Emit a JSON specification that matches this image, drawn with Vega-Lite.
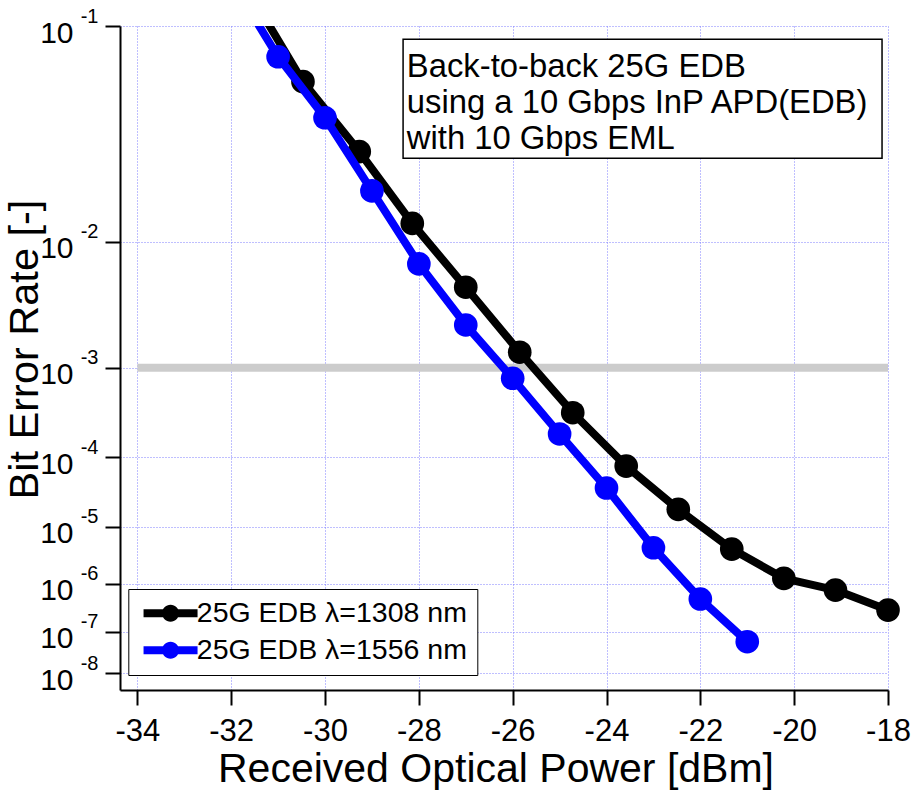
{
  "$schema": "https://vega.github.io/schema/vega-lite/v6.json",
  "width": 768,
  "height": 664,
  "autosize": {"type": "none"},
  "padding": {"left": 120, "top": 26, "right": 26, "bottom": 100},
  "background": "white",
  "config": {
    "view": {"stroke": null},
    "font": "Liberation Sans",
    "axis": {
      "domainColor": "black", "domainWidth": 2,
      "tickColor": "black", "tickWidth": 2, "tickSize": 15,
      "labelFont": "Liberation Sans", "labelColor": "black",
      "titleFont": "Liberation Sans", "titleColor": "black", "titleFontWeight": "normal",
      "gridColor": "#7f7fff", "gridDash": [1, 2], "gridWidth": 1, "gridOpacity": 1
    }
  },
  "data": {
    "values": [
      {"s": "1308", "p": -31.6, "q": 0.9},
      {"s": "1308", "p": -30.47, "q": 1.196},
      {"s": "1308", "p": -29.27, "q": 1.497},
      {"s": "1308", "p": -28.14, "q": 1.886},
      {"s": "1308", "p": -27.0, "q": 2.315},
      {"s": "1308", "p": -25.85, "q": 2.853},
      {"s": "1308", "p": -24.72, "q": 3.465},
      {"s": "1308", "p": -23.58, "q": 4.113},
      {"s": "1308", "p": -22.47, "q": 4.727},
      {"s": "1308", "p": -21.33, "q": 5.371},
      {"s": "1308", "p": -20.22, "q": 5.9},
      {"s": "1308", "p": -19.12, "q": 6.127},
      {"s": "1308", "p": -18.0, "q": 6.534},
      {"s": "1556", "p": -32.0, "q": 0.864},
      {"s": "1556", "p": -31.0, "q": 1.104},
      {"s": "1556", "p": -30.0, "q": 1.343},
      {"s": "1556", "p": -29.0, "q": 1.699},
      {"s": "1556", "p": -28.0, "q": 2.148},
      {"s": "1556", "p": -27.0, "q": 2.614},
      {"s": "1556", "p": -26.0, "q": 3.102},
      {"s": "1556", "p": -25.0, "q": 3.71},
      {"s": "1556", "p": -24.0, "q": 4.414},
      {"s": "1556", "p": -23.0, "q": 5.348},
      {"s": "1556", "p": -22.0, "q": 6.306},
      {"s": "1556", "p": -21.0, "q": 7.233}
    ]
  },
  "layer": [
    {
      "data": {"values": [{}]},
      "mark": {"type": "rule", "color": "#cccccc", "strokeWidth": 8},
      "encoding": {
        "x": {"datum": -34, "type": "quantitative", "scale": {"domain": [-34.37, -18], "nice": false, "zero": false},
              "axis": {"values": [-34, -32, -30, -28, -26, -24, -22, -20, -18], "labelExpr": "'-' + abs(datum.value)",
                       "labelFontSize": 31, "labelPadding": 11, "labelFlush": false, "labelOverlap": false, "grid": true,
                       "title": "Received Optical Power [dBm]", "titleFontSize": 41, "titleX": 375.5, "titleY": 91,
                       "titleBaseline": "alphabetic", "titleAlign": "center", "titleAnchor": null}},
        "x2": {"datum": -18},
        "y": {"datum": 3, "type": "quantitative", "scale": {"type": "log", "domain": [1, 8.447], "reverse": true, "nice": false, "zero": false},
              "axis": {"values": [1, 2, 3, 4, 5, 6, 7, 8], "labelExpr": "'10'", "labelFontSize": 30, "labelPadding": 32,
                       "labelAlign": "right", "labelBaseline": "alphabetic", "labelOffset": 16, "labelFlush": false, "labelOverlap": false,
                       "grid": true, "title": "Bit Error Rate  [-]", "titleFontSize": 41.5, "titleX": -82.5, "titleY": 323,
                       "titleAngle": 270, "titleBaseline": "alphabetic", "titleAlign": "center", "titleAnchor": null, "orient": "left"}}
      }
    },
    {
      "transform": [{"filter": "datum.s == '1308'"}],
      "mark": {"type": "line", "color": "black", "strokeWidth": 8, "clip": true, "strokeJoin": "round"},
      "encoding": {
        "x": {"field": "p", "type": "quantitative"},
        "y": {"field": "q", "type": "quantitative",
              "axis": {"values": [1, 2, 3, 4, 5, 6, 7, 8], "labelExpr": "'-' + datum.value", "labelFontSize": 20, "labelPadding": 22,
                       "tickSize": 0, "ticks": false, "domain": false, "grid": false, "labelAlign": "right",
                       "labelBaseline": "alphabetic", "labelOffset": -4, "labelFlush": false, "labelOverlap": false,
                       "title": null, "orient": "left"}}
      }
    },
    {
      "transform": [{"filter": "datum.s == '1308' && datum.q >= 1"}],
      "mark": {"type": "point", "filled": true, "size": 560, "opacity": 1, "strokeWidth": 0, "shape": "circle"},
      "encoding": {
        "x": {"field": "p", "type": "quantitative"},
        "y": {"field": "q", "type": "quantitative", "axis": null},
        "fill": {"field": "s", "type": "nominal", "scale": {"domain": ["1308", "1556"], "range": ["#000000", "#0000ff"]},
                 "legend": {"title": null, "orient": "none", "legendX": 8.3, "legendY": 563,
                            "symbolType": "M-2.7,-0.4H2.7V0.4H-2.7Z M0.85,0A0.85,0.85 0 1,1 -0.85,0A0.85,0.85 0 1,1 0.85,0Z",
                            "symbolSize": 400, "symbolStrokeWidth": 0, "symbolOffset": 18, "labelOffset": 12,
                            "labelFont": "Liberation Sans", "labelFontSize": 28.5, "labelColor": "black", "labelLimit": 0,
                            "labelExpr": "datum.value == '1308' ? '25G EDB λ=1308 nm' : '\u2005\u200925G EDB λ=1556 nm'",
                            "padding": 10, "rowPadding": 8, "strokeColor": "black", "fillColor": "white"}}
      }
    },
    {
      "transform": [{"filter": "datum.s == '1556'"}],
      "mark": {"type": "line", "color": "#0000ff", "strokeWidth": 8, "clip": true, "strokeJoin": "round"},
      "encoding": {
        "x": {"field": "p", "type": "quantitative"},
        "y": {"field": "q", "type": "quantitative", "axis": null}
      }
    },
    {
      "transform": [{"filter": "datum.s == '1556' && datum.q >= 1"}],
      "mark": {"type": "point", "filled": true, "size": 560, "opacity": 1, "strokeWidth": 0, "shape": "circle"},
      "encoding": {
        "x": {"field": "p", "type": "quantitative"},
        "y": {"field": "q", "type": "quantitative", "axis": null},
        "fill": {"field": "s", "type": "nominal"}
      }
    },
    {
      "data": {"values": [{}]},
      "mark": {"type": "rect", "fill": "white", "stroke": "black", "strokeWidth": 1.5},
      "encoding": {
        "x": {"datum": -28.336, "type": "quantitative"},
        "x2": {"datum": -18.127},
        "y": {"datum": 1.0437, "type": "quantitative", "axis": null},
        "y2": {"datum": 1.5298}
      }
    },
    {
      "data": {"values": [{}]},
      "mark": {"type": "text", "align": "left", "baseline": "alphabetic", "font": "Liberation Sans", "fontSize": 32.8,
               "lineHeight": 36.2, "color": "black",
               "text": ["Back-to-back 25G EDB", "using a 10 Gbps InP APD(EDB)", "with 10 Gbps EML"]},
      "encoding": {
        "x": {"datum": -28.257, "type": "quantitative"},
        "y": {"datum": 1.177, "type": "quantitative", "axis": null}
      }
    }
  ],
  "resolve": {"axis": {"y": "independent"}}
}
